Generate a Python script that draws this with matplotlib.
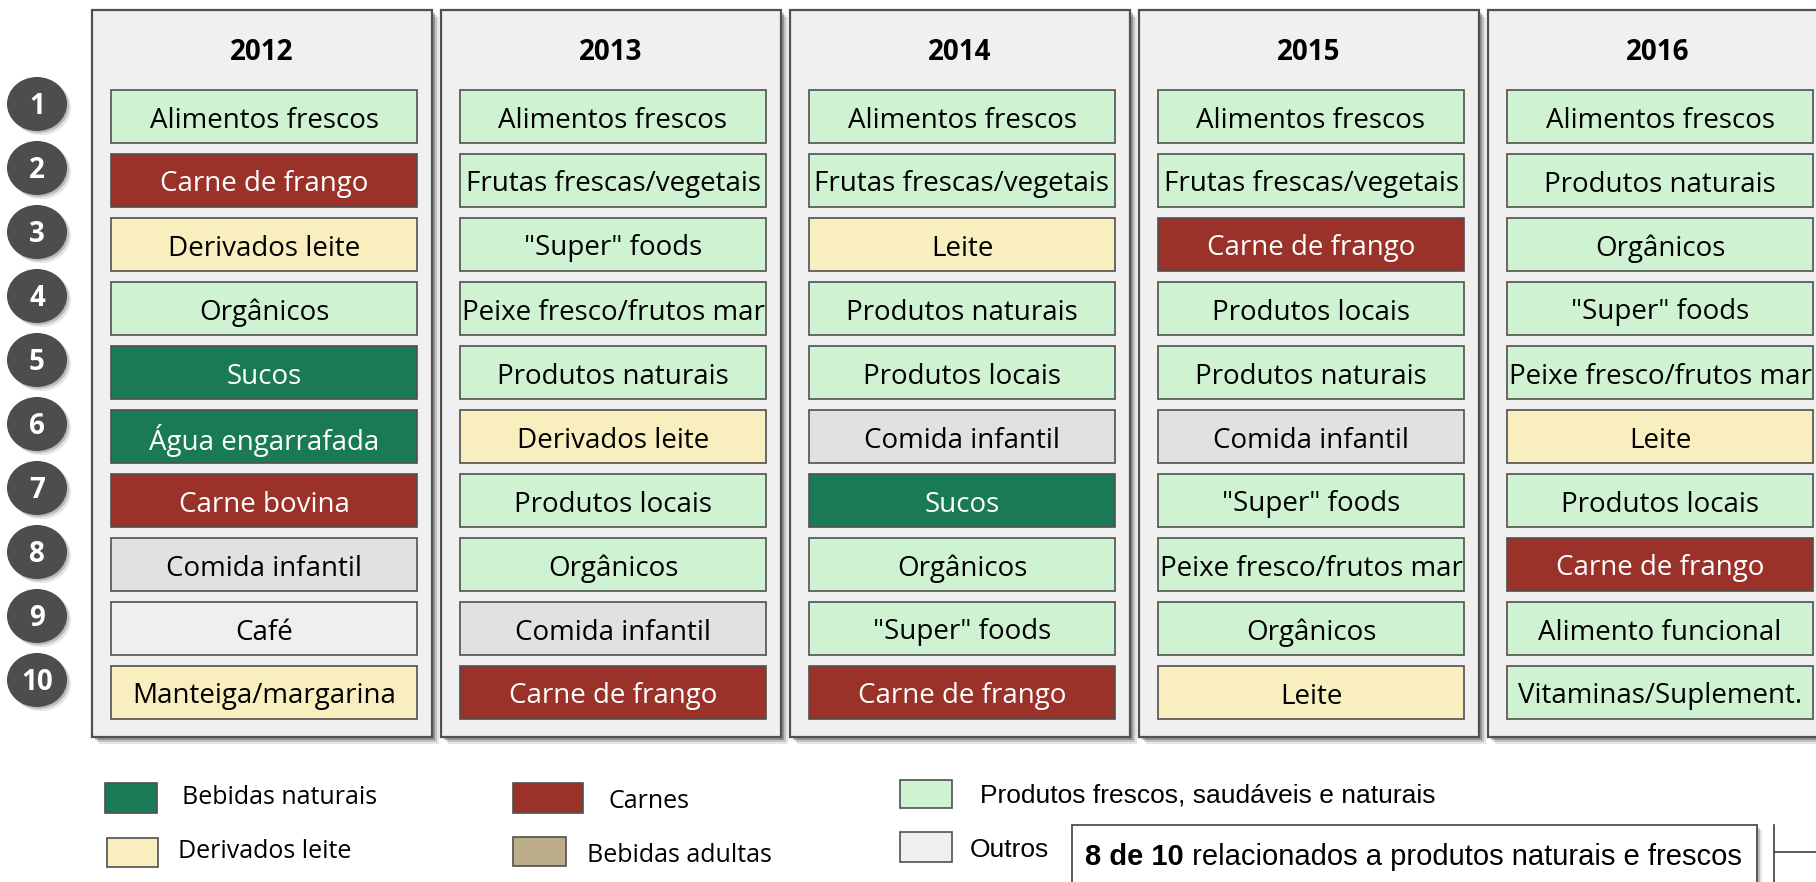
import matplotlib
matplotlib.use("Agg")
import matplotlib.pyplot as plt
from matplotlib.patches import Rectangle, Ellipse
from matplotlib import font_manager

years = ["2012", "2013", "2014", "2015", "2016"]

items_2012 = ["Alimentos frescos", "Carne de frango", "Derivados leite", "Orgânicos", "Sucos",
              "Água engarrafada", "Carne bovina", "Comida infantil", "Café", "Manteiga/margarina"]
cats_2012 = ["fresh", "meat", "dairy", "fresh", "drink", "drink", "meat", "infant", "other", "dairy"]

items_2013 = ["Alimentos frescos", "Frutas frescas/vegetais", '"Super" foods', "Peixe fresco/frutos mar",
              "Produtos naturais", "Derivados leite", "Produtos locais", "Orgânicos", "Comida infantil",
              "Carne de frango"]
cats_2013 = ["fresh", "fresh", "fresh", "fresh", "fresh", "dairy", "fresh", "fresh", "infant", "meat"]

items_2014 = ["Alimentos frescos", "Frutas frescas/vegetais", "Leite", "Produtos naturais", "Produtos locais",
              "Comida infantil", "Sucos", "Orgânicos", '"Super" foods', "Carne de frango"]
cats_2014 = ["fresh", "fresh", "dairy", "fresh", "fresh", "infant", "drink", "fresh", "fresh", "meat"]

items_2015 = ["Alimentos frescos", "Frutas frescas/vegetais", "Carne de frango", "Produtos locais",
              "Produtos naturais", "Comida infantil", '"Super" foods', "Peixe fresco/frutos mar",
              "Orgânicos", "Leite"]
cats_2015 = ["fresh", "fresh", "meat", "fresh", "fresh", "infant", "fresh", "fresh", "fresh", "dairy"]

items_2016 = ["Alimentos frescos", "Produtos naturais", "Orgânicos", '"Super" foods', "Peixe fresco/frutos mar",
              "Leite", "Produtos locais", "Carne de frango", "Alimento funcional", "Vitaminas/Suplement."]
cats_2016 = ["fresh", "fresh", "fresh", "fresh", "fresh", "dairy", "fresh", "meat", "fresh", "fresh"]

ranks = list(range(1, 11))

colors = {
    "fresh": "#cff2d2",
    "meat": "#9b3229",
    "dairy": "#f9eebd",
    "drink": "#1a7a56",
    "other": "#efefef",
    "infant": "#e1e1e1",
    "adult": "#bcae88",
}
text_colors = {"meat": "white", "drink": "white"}

legend_labels = ["Bebidas naturais", "Derivados leite", "Carnes", "Bebidas adultas",
                 "Produtos frescos, saudáveis e naturais", "Outros"]
legend_cats = ["drink", "dairy", "meat", "adult", "fresh", "other"]

note_bold = "8 de 10"
note_rest = " relacionados a produtos naturais e frescos"

all_items = [items_2012, items_2013, items_2014, items_2015, items_2016]
all_cats = [cats_2012, cats_2013, cats_2014, cats_2015, cats_2016]

W, H = 1816, 882
fig = plt.figure(figsize=(W / 100, H / 100), dpi=100)
ax = fig.add_axes([0, 0, 1, 1])
ax.set_xlim(0, W)
ax.set_ylim(H, 0)
ax.axis("off")

# pick a humanist sans that also has a bold face
fonts = font_manager.fontManager.ttflist
main_font = "Noto Sans"
for fam in ["Noto Sans", "Open Sans", "Lato", "DejaVu Sans"]:
    ws = {f.weight for f in fonts if f.name == fam}
    if 400 in ws and any(w in ws for w in (600, 700, "bold")):
        main_font = fam
        break
arial = "Liberation Sans"

edge = "#505050"
panel_w, panel_step = 340, 349
box_w, box_h, row_step = 306, 53, 64

for i, (year, items, cats) in enumerate(zip(years, all_items, all_cats)):
    px = 92 + panel_step * i
    # shadow
    for k, a in [(7, 0.10), (5, 0.15), (3, 0.25)]:
        ax.add_patch(Rectangle((px + k, 10 + k), panel_w, 727, facecolor="#000000",
                               edgecolor="none", alpha=a, zorder=1))
    ax.add_patch(Rectangle((px, 10), panel_w, 727, facecolor="#f0f0f0", edgecolor=edge,
                           linewidth=1.6, zorder=2))
    ax.text(px + panel_w / 2, 53, year, ha="center", va="center", fontsize=20,
            fontweight="bold", family=main_font, zorder=3)
    for r, (name, cat) in enumerate(zip(items, cats)):
        bx = px + 19
        by = 90 + row_step * r
        box = Rectangle((bx, by), box_w, box_h, facecolor=colors[cat], edgecolor=edge,
                        linewidth=1.2, zorder=3)
        ax.add_patch(box)
        t = ax.text(bx + box_w / 2, by + box_h / 2 + 4, name, ha="center", va="center",
                    fontsize=20, family=main_font, color=text_colors.get(cat, "black"), zorder=4)
        t.set_clip_path(box)

# rank circles
for r in ranks:
    cy = 104 + row_step * (r - 1)
    for k, a in [(4, 0.10), (2, 0.18)]:
        ax.add_patch(Ellipse((37 + k, cy + k), 60, 54, facecolor="#000000", edgecolor="none",
                             alpha=a, zorder=1))
    ax.add_patch(Ellipse((37, cy), 60, 54, facecolor="#4d4d4d", edgecolor="none", zorder=2))
    ax.text(37, cy + 3, str(r), ha="center", va="center", fontsize=20, fontweight="bold",
            color="white", family=main_font, zorder=3)

# legend
sw = [(105, 783, 52, 30), (107, 838, 51, 29), (513, 783, 70, 30), (513, 837, 53, 29),
      (900, 780, 52, 28), (900, 832, 52, 30)]
tx = [(182, 798), (178, 852), (609, 802), (587, 855), (980, 795), (970, 850)]
for (x, y, w, h), (lx, ly), lab, cat in zip(sw, tx, legend_labels, legend_cats):
    ax.add_patch(Rectangle((x, y), w, h, facecolor=colors[cat], edgecolor=edge, linewidth=1.2))
    if cat in ("fresh", "other"):
        ax.text(lx, ly, lab, ha="left", va="center", fontsize=19, family=arial)
    else:
        ax.text(lx, ly, lab, ha="left", va="center", fontsize=18, family=main_font)

# note box
for k, a in [(5, 0.10), (3, 0.18)]:
    ax.add_patch(Rectangle((1072 + k, 825 + k), 685, 80, facecolor="#000000", edgecolor="none",
                           alpha=a, clip_on=False))
ax.add_patch(Rectangle((1072, 825), 685, 80, facecolor="white", edgecolor="#404040",
                       linewidth=1.2, clip_on=False))
tb = ax.text(1085, 857, note_bold, ha="left", va="center", fontsize=21, fontweight="bold",
             family=arial)
ax.annotate(note_rest, xy=(1, 0.5), xycoords=tb, ha="left", va="center", fontsize=21,
            family=arial)
ax.plot([1774, 1774], [825, 882], color="#404040", linewidth=1.2)
ax.plot([1774, 1816], [852, 852], color="#404040", linewidth=1.2)

fig.savefig("out.png", dpi=100)
